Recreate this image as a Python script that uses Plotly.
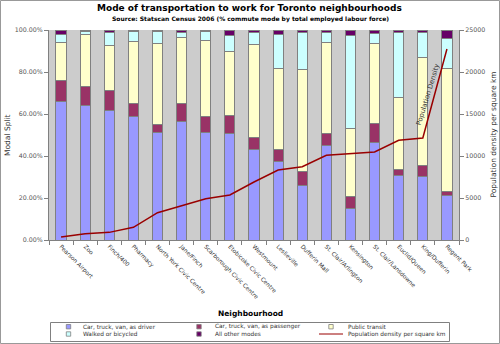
import plotly.graph_objects as go

neighbourhoods = ["Pearson Airport", "Zoo", "Finch/400", "Pharmacy", "North York Civic Centre",
                  "Jane/Finch", "Scarborough Civic Centre", "Etobicoke Civic Centre", "Westmount",
                  "Leslieville", "Dufferin Mall", "St. Clair/Arlington", "Kensington",
                  "St. Clair/Lansdowne", "Euclid/Queen", "King/Dufferin", "Regent Park"]

driver = [66.0, 64.0, 61.6, 58.7, 51.1, 56.5, 51.1, 50.6, 43.0, 37.3, 25.9, 45.1, 15.1, 46.2, 30.6, 30.2, 21.0]
passenger = [10.0, 8.9, 9.8, 6.5, 4.1, 8.4, 7.9, 8.6, 6.0, 5.9, 6.5, 5.7, 5.4, 9.2, 3.2, 5.5, 2.2]
transit = [18.1, 25.0, 21.3, 29.2, 38.3, 31.6, 36.1, 30.6, 44.2, 38.5, 48.7, 43.3, 32.5, 38.1, 34.1, 51.0, 58.5]
walked = [3.8, 1.3, 5.9, 4.8, 5.7, 2.4, 4.4, 7.8, 5.8, 16.2, 17.8, 4.8, 44.3, 4.9, 30.7, 12.3, 14.3]
other = [2.1, 0.8, 1.4, 0.8, 0.8, 1.1, 0.5, 2.4, 1.0, 2.1, 1.1, 1.1, 2.7, 1.6, 1.4, 1.0, 4.0]
density = [360, 750, 910, 1510, 3250, 4130, 4920, 5360, 6900, 8330, 8730, 10080, 10280, 10480, 11870, 12140, 22740]

pct_ticks = [0, 20, 40, 60, 80, 100]
pct_labels = ["0.00%", "20.00%", "40.00%", "60.00%", "80.00%", "100.00%"]
dens_ticks = [0, 5000, 10000, 15000, 20000, 25000]
dens_labels = ["0", "5000", "10000", "15000", "20000", "25000"]

FONT = "DejaVu Sans"
LINE = "#808080"
DENS_COLOR = "#990000"

# plot area in pixels: x 49..459, y 30..240
L, R, T, B = 49, 459, 30, 240
def px(x):
    return (x - L) / (R - L)
def py(y):
    return (B - y) / (B - T)

fig = go.Figure()
series = [
    ("Car, truck, van, as driver", driver, "#9999FF"),
    ("Car, truck, van, as passenger", passenger, "#993366"),
    ("Public transit", transit, "#FFFFCC"),
    ("Walked or bicycled", walked, "#CCFFFF"),
    ("All other modes", other, "#660066"),
]
for name, vals, col in series:
    fig.add_trace(go.Bar(x=neighbourhoods, y=vals, name=name, marker_color=col,
                         marker_line_color=LINE, marker_line_width=1, width=0.42))

fig.add_trace(go.Scatter(x=neighbourhoods, y=density, name="Population density per square km",
                         mode="lines", line=dict(color=DENS_COLOR, width=1.5), yaxis="y2"))

fig.update_layout(
    width=500, height=344,
    margin=dict(l=L, r=500 - R, t=T, b=344 - B),
    barmode="stack",
    paper_bgcolor="white",
    plot_bgcolor="#CCCCCC",
    font=dict(family=FONT, size=6, color="#333333"),
    showlegend=False,
    xaxis=dict(type="category", tickangle=45, tickson="boundaries", ticks="outside", ticklen=4,
               tickcolor=LINE, showline=True, linecolor=LINE, showgrid=False, automargin=False,
               tickfont=dict(size=5.8, color="#333333"), range=[-0.5, 16.5]),
    yaxis=dict(range=[0, 100], tickvals=pct_ticks, ticktext=pct_labels,
               ticks="outside", ticklen=4, tickcolor=LINE, showline=True, linecolor=LINE,
               showgrid=False, zeroline=False, automargin=False,
               tickfont=dict(size=6.3, color="#555555")),
    yaxis2=dict(range=[0, 25000], tickvals=dens_ticks, ticktext=dens_labels, overlaying="y",
                side="right", ticks="outside", ticklen=4, tickcolor=LINE, showline=True,
                linecolor=LINE, showgrid=False, zeroline=False, automargin=False,
                tickfont=dict(size=6.3, color="#555555")),
)

# titles
fig.add_annotation(x=px(249), y=py(8), xref="paper", yref="paper", showarrow=False,
                   text="<b>Mode of transportation to work for Toronto neighbourhoods</b>",
                   font=dict(size=9, color="black"), xanchor="center", yanchor="middle")
fig.add_annotation(x=px(250), y=py(19.5), xref="paper", yref="paper", showarrow=False,
                   text="<b>Source: Statscan Census 2006 (% commute mode by total employed labour force)</b>",
                   font=dict(size=6, color="black"), xanchor="center", yanchor="middle")
fig.add_annotation(x=px(7), y=py(135), xref="paper", yref="paper", showarrow=False,
                   text="Modal Split", textangle=-90, font=dict(size=7.5, color="#333333"),
                   xanchor="center", yanchor="middle")
fig.add_annotation(x=px(492.5), y=py(135), xref="paper", yref="paper", showarrow=False,
                   text="Population density per square km", textangle=-90,
                   font=dict(size=7.5, color="#333333"), xanchor="center", yanchor="middle")
fig.add_annotation(x=px(250), y=py(313), xref="paper", yref="paper", showarrow=False,
                   text="<b>Neighbourhood</b>", font=dict(size=7.5, color="black"),
                   xanchor="center", yanchor="middle")

fig.add_annotation(x=15.2, y=17300, xref="x", yref="y2", text="Population Density",
                   showarrow=False, textangle=-73, font=dict(size=6.8, color="#333333"))

# legend (drawn manually to match the compact reference box)
fig.add_shape(type="rect", xref="paper", yref="paper", x0=px(50.5), x1=px(449.5),
              y0=py(341.5), y1=py(322.5), line=dict(color=LINE, width=1), fillcolor="white")
legend_items = [
    (series[0][0], series[0][2], 68.5, 326.7, 80.5),
    (series[1][0], series[1][2], 199, 326.7, 213),
    (series[2][0], series[2][2], 331, 326.7, 346),
    (series[3][0], series[3][2], 68.5, 334, 80.5),
    (series[4][0], series[4][2], 199, 334, 213),
]
for name, col, sx, sy, tx in legend_items:
    fig.add_shape(type="rect", xref="paper", yref="paper", x0=px(sx - 2.2), x1=px(sx + 2.2),
                  y0=py(sy + 2.2), y1=py(sy - 2.2), line=dict(color=LINE, width=0.8), fillcolor=col)
    fig.add_annotation(x=px(tx), y=py(sy), xref="paper", yref="paper", showarrow=False,
                       text=name, font=dict(size=5.8, color="#333333"),
                       xanchor="left", yanchor="middle")
fig.add_shape(type="line", xref="paper", yref="paper", x0=px(319), x1=px(343),
              y0=py(334), y1=py(334), line=dict(color=DENS_COLOR, width=1))
fig.add_annotation(x=px(346), y=py(334), xref="paper", yref="paper", showarrow=False,
                   text="Population density per square km", font=dict(size=5.8, color="#333333"),
                   xanchor="left", yanchor="middle")

# outer frame of the chart
fig.add_shape(type="rect", xref="paper", yref="paper",
              x0=px(0.5), x1=px(499.5), y0=py(343.5), y1=py(0.5),
              line=dict(color="#999999", width=1), fillcolor="rgba(0,0,0,0)", layer="below")

fig.write_html("out.html")
